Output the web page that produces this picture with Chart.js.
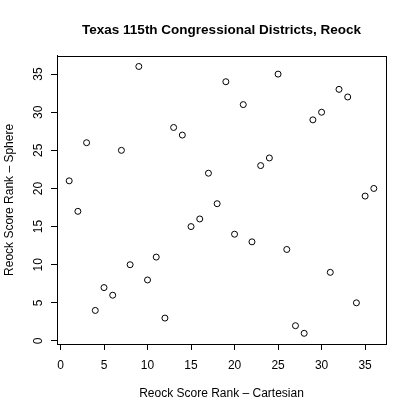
<!DOCTYPE html>
<html lang="en">
<head>
  <meta charset="UTF-8">
  <title>Texas 115th Congressional Districts, Reock</title>
  <script src="https://cdn.jsdelivr.net/npm/chart.js"></script>
  <style>
    html, body { margin: 0; padding: 0; background: #fff; }
    #wrap { width: 415px; height: 415px; }
  </style>
</head>
<body>
  <div id="wrap"><canvas id="reockChart"></canvas></div>
  <script>
    const cartesianRank = [1, 2, 3, 4, 5, 6, 7, 8, 9, 10, 11, 12, 13, 14, 15, 16, 17, 18,
      19, 20, 21, 22, 23, 24, 25, 26, 27, 28, 29, 30, 31, 32, 33, 34, 35, 36]
    const sphereRank = [21, 17, 26, 4, 7, 6, 25, 10, 36, 8, 11, 3, 28, 27, 15, 16, 22, 18,
      34, 14, 31, 13, 23, 24, 35, 12, 2, 1, 29, 30, 9, 33, 32, 5, 19, 20]
    const tickValues = [0, 5, 10, 15, 20, 25, 30, 35]

    const fontFamily = '"Liberation Sans", Arial, Helvetica, sans-serif'

    // box around the plot region, like R's default plot frame
    const frame = {
      id: 'frame',
      afterDraw(chart) {
        const { ctx, chartArea: a } = chart
        ctx.save()
        ctx.strokeStyle = '#000'
        ctx.lineWidth = 1
        ctx.strokeRect(Math.round(a.left) + 0.5, Math.round(a.top) + 0.5,
          Math.round(a.right - a.left), Math.round(a.bottom - a.top))
        ctx.restore()
      }
    }

    const fixedTicks = (scale) => {
      scale.ticks = tickValues.map(v => ({ value: v }))
    }

    const axisCommon = {
      type: 'linear',
      min: -0.4,
      max: 37.4,
      afterBuildTicks: fixedTicks,
      grid: {
        display: true,
        drawOnChartArea: false,
        drawTicks: true,
        tickLength: 6,
        color: '#000',
        lineWidth: 1,
      },
      border: { display: true, color: '#000', width: 1 },
    }

    new Chart(document.getElementById('reockChart'), {
      type: 'scatter',
      data: {
        datasets: [{
          data: cartesianRank.map((x, i) => ({ x: x, y: sphereRank[i] })),
          pointStyle: 'circle',
          pointRadius: 3,
          pointHoverRadius: 3,
          borderColor: '#000',
          borderWidth: 1,
          backgroundColor: 'rgba(0,0,0,0)',
        }]
      },
      options: {
        responsive: true,
        maintainAspectRatio: false,
        animation: false,
        events: [],
        layout: { padding: { left: 0, right: 29, top: 0, bottom: 0 } },
        plugins: {
          legend: { display: false },
          tooltip: { enabled: false },
          title: {
            display: true,
            fullSize: false,
            text: 'Texas 115th Congressional Districts, Reock',
            color: '#000',
            font: { family: fontFamily, size: 13.5, weight: 'bold' },
            padding: { top: 22, bottom: 17.6 },
          },
        },
        scales: {
          x: {
            ...axisCommon,
            position: 'bottom',
            afterFit: (scale) => { scale.height = 71 },
            ticks: {
              color: '#000',
              font: { family: fontFamily, size: 12 },
              padding: 8,
              maxRotation: 0,
              autoSkip: false,
            },
            title: {
              display: true,
              text: 'Reock Score Rank \u2013 Cartesian',
              color: '#000',
              font: { family: fontFamily, size: 12 },
              padding: { top: 0, bottom: 14 },
            },
          },
          y: {
            ...axisCommon,
            position: 'left',
            afterFit: (scale) => { scale.width = 57 },
            ticks: {
              color: '#000',
              font: { family: fontFamily, size: 12 },
              padding: 6,
              minRotation: 90,
              maxRotation: 90,
              crossAlign: 'center',
              autoSkip: false,
            },
            title: {
              display: true,
              text: 'Reock Score Rank \u2013 Sphere',
              color: '#000',
              font: { family: fontFamily, size: 12 },
              padding: { top: 2, bottom: 0 },
            },
          },
        },
      },
      plugins: [frame],
    })
  </script>
</body>
</html>
